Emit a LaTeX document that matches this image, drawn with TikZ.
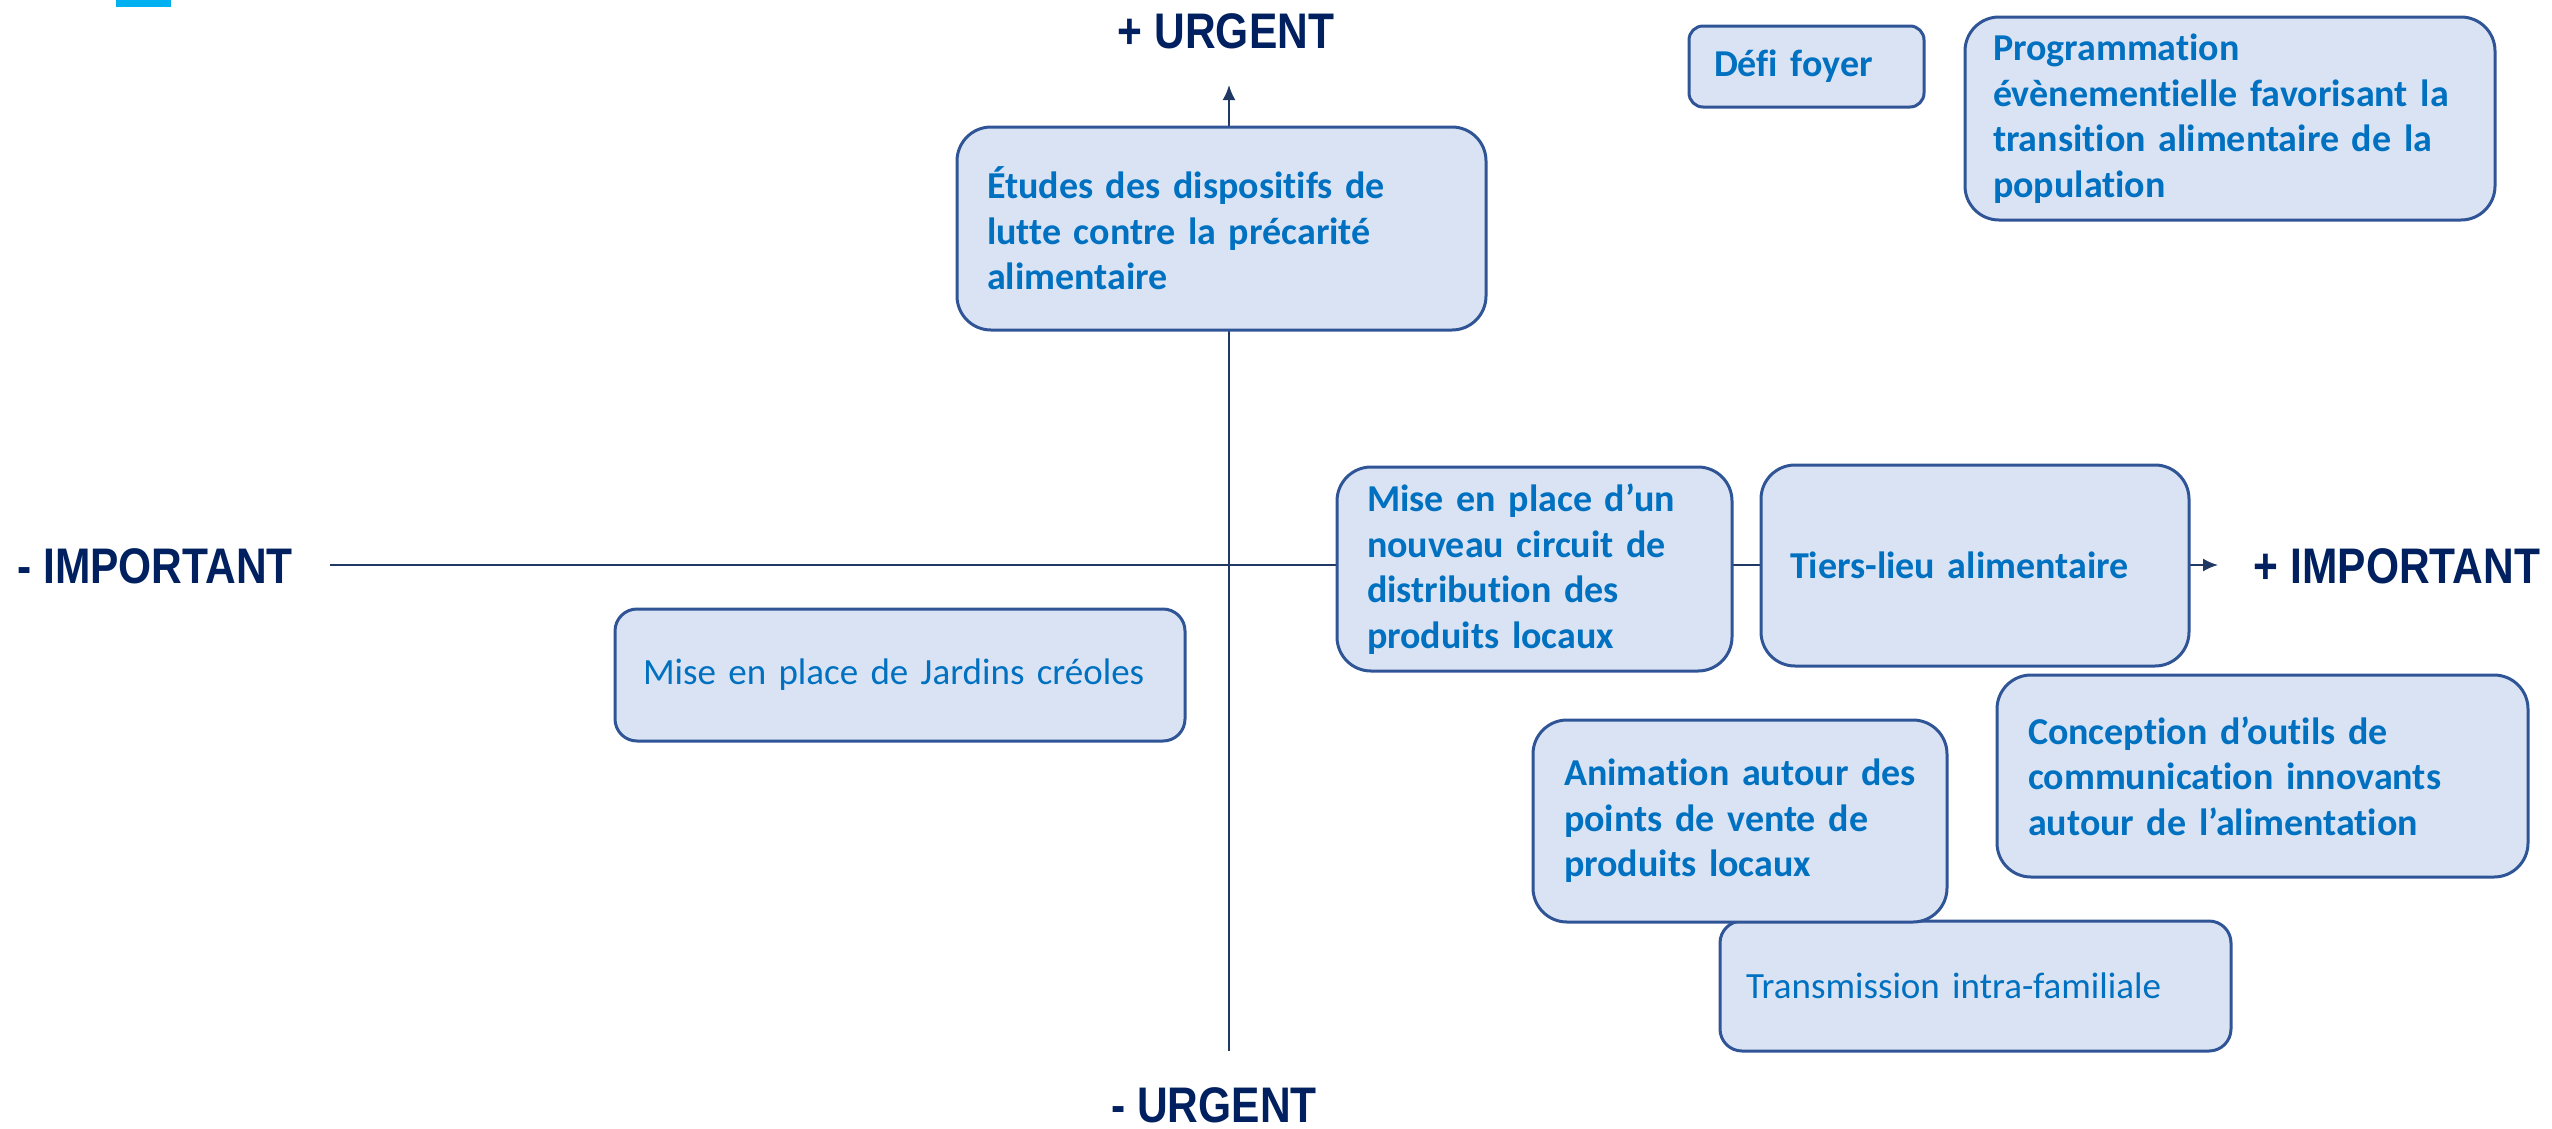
\documentclass[tikz,border=0pt]{standalone}
\usepackage{fontspec}
\usepackage{graphicx}
\setmainfont{Carlito}[Ligatures=NoCommon]
\newfontfamily\lblfont{Liberation Sans}
\usetikzlibrary{arrows.meta}
\definecolor{axisc}{HTML}{1F3864}
\definecolor{lblc}{HTML}{002060}
\definecolor{boxd}{HTML}{2F5597}
\definecolor{boxf}{HTML}{DAE3F3}
\definecolor{txtc}{HTML}{0070C0}
\definecolor{barc}{HTML}{00B0F0}
\newcommand\oneline[1]{\mbox{#1}}
\hfuzz=400pt
\begin{document}
\begin{tikzpicture}[x=1pt,y=-1pt,
  card/.style={draw=boxd, fill=boxf, line width=3pt, rounded corners=34pt,
    align=left, inner xsep=30pt, inner ysep=0pt, text=txtc,
    font=\fontsize{38}{45.5}\selectfont\bfseries},
  plaincard/.style={card, font=\fontsize{37}{45.5}\selectfont\mdseries, rounded corners=22pt},
  axislbl/.style={text=lblc, inner sep=0pt, font=\lblfont\fontsize{50}{54}\selectfont\bfseries},
  axisline/.style={draw=axisc, line width=2pt},
  axisarrow/.style={axisline, -{Latex[length=15pt,width=13pt]}}
]
\useasboundingbox (0,0) rectangle (2552,1128);
\fill[barc] (116,0) rectangle (171,7);

% axis labels
\node[axislbl] (uplus) at (1226,31) {\scalebox{0.85}[1]{+ URGENT}};
\node[axislbl] (uminus) at (1214,1105) {\scalebox{0.85}[1]{- URGENT}};
\node[axislbl] (iminus) at (155,566) {\scalebox{0.85}[1]{- IMPORTANT}};
\node[axislbl] (iplus) at (2397,566) {\scalebox{0.85}[1]{+ IMPORTANT}};

% axes
\coordinate (vbot) at (1229,1051);
\coordinate (vtop) at (1229,85);
\coordinate (hleft) at (330,565);
\coordinate (hright) at (2218,565);
\draw[axisarrow] (vbot) -- (vtop);
\draw[axisarrow] (hleft) -- (hright);

% boxes
\node[card, inner xsep=30pt, minimum width=529pt, minimum height=203pt, text width=469pt] (etudes) at (1221.5,228.5)
  {\oneline{Études des dispositifs de}\\\oneline{lutte contre la précarité}\\\oneline{alimentaire}};
\node[card, rounded corners=14pt, inner xsep=25pt, minimum width=235pt, minimum height=81pt, text width=185pt] (defi) at (1806.5,66.5)
  {\oneline{Défi foyer}};
\node[card, inner xsep=28pt, minimum width=530pt, minimum height=203pt, text width=474pt] (prog) at (2230,118.5)
  {\oneline{Programmation}\\\oneline{évènementielle favorisant la}\\\oneline{transition alimentaire de la}\\\oneline{population}};
\node[card, inner xsep=30pt, minimum width=395pt, minimum height=204pt, text width=335pt] (mise) at (1534.5,569)
  {\oneline{Mise en place d’un}\\\oneline{nouveau circuit de}\\\oneline{distribution des}\\\oneline{produits locaux}};
\node[card, inner xsep=29pt, minimum width=428pt, minimum height=201pt, text width=370pt] (tiers) at (1975,565.5)
  {\oneline{Tiers-lieu alimentaire}};
\node[plaincard, inner xsep=28pt, minimum width=570pt, minimum height=132pt, text width=514pt] (jardins) at (900,675)
  {\oneline{Mise en place de Jardins créoles}};
\node[card, inner xsep=31pt, minimum width=531pt, minimum height=202pt, text width=469pt] (concept) at (2262.5,776)
  {\oneline{Conception d’outils de}\\\oneline{communication innovants}\\\oneline{autour de l’alimentation}};
\node[plaincard, inner xsep=26pt, minimum width=511pt, minimum height=130pt, text width=459pt] (transm) at (1975.5,986)
  {\oneline{Transmission intra-familiale}};
\node[card, inner xsep=31pt, minimum width=414pt, minimum height=202pt, text width=352pt] (anim) at (1740,821)
  {\oneline{Animation autour des}\\\oneline{points de vente de}\\\oneline{produits locaux}};
\end{tikzpicture}
\end{document}
